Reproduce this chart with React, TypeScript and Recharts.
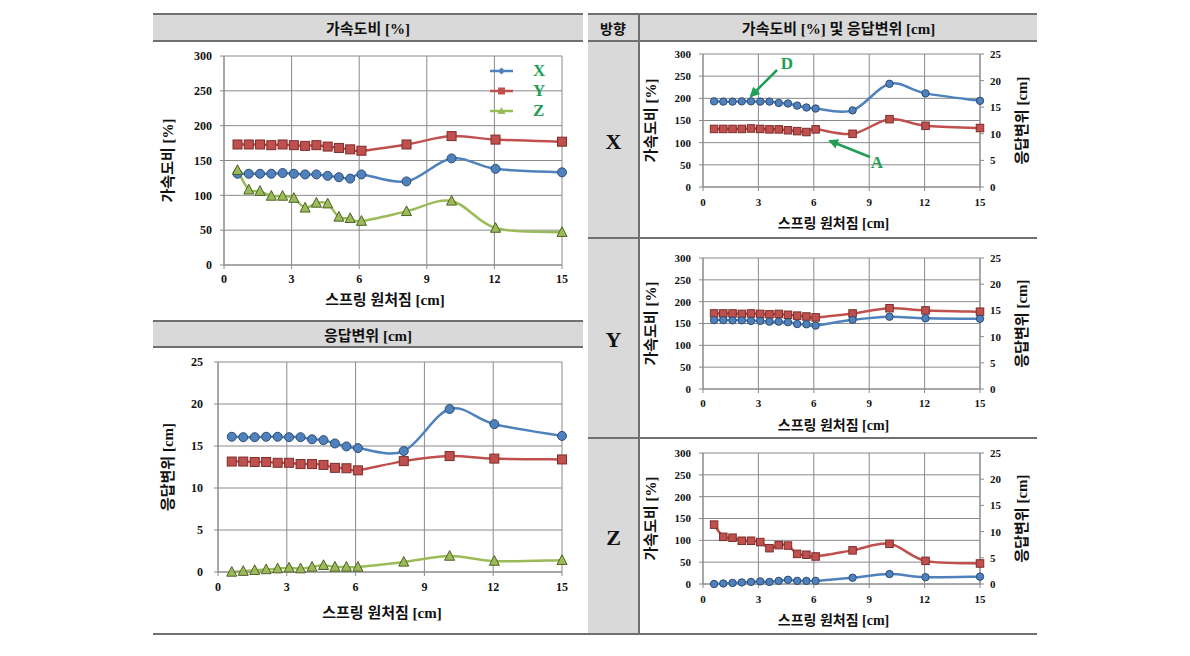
import React from 'react';
import { CartesianGrid, Legend, Line, LineChart, XAxis, YAxis } from 'recharts';

// spring deflection [cm] at each test point
const SPRING = [0.6, 1.1, 1.6, 2.1, 2.6, 3.1, 3.6, 4.1, 4.6, 5.1, 5.6, 6.1, 8.1, 10.1, 12.05, 15];

// acceleration ratio [%]
const ACC_X = [131, 131, 131, 131, 132, 131, 130, 130, 128, 126, 124, 130, 120, 153, 138, 133];
const ACC_Y = [173, 173, 173, 172, 173, 172, 171, 172, 170, 168, 166, 164, 173, 185, 180, 177];
const ACC_Z = [136, 108, 106, 99, 99, 96, 82, 89, 88, 69, 67, 63, 77, 92, 53, 47];

// response displacement [cm]
const DISP_X = [16.1, 16.05, 16.05, 16.1, 16.1, 16.05, 16.05, 15.8, 15.7, 15.3, 14.95, 14.75, 14.4, 19.4, 17.6, 16.2];
const DISP_Y = [13.15, 13.15, 13.1, 13.1, 13.0, 13.0, 12.85, 12.85, 12.75, 12.4, 12.35, 12.1, 13.2, 13.8, 13.5, 13.4];
const DISP_Z = [0.0, 0.1, 0.2, 0.3, 0.4, 0.5, 0.4, 0.6, 0.8, 0.6, 0.6, 0.6, 1.2, 1.9, 1.3, 1.4];

const X_TICKS = [0, 3, 6, 9, 12, 15];
const ACC_TICKS = [0, 50, 100, 150, 200, 250, 300];
const DISP_TICKS = [0, 5, 10, 15, 20, 25];

const accData = SPRING.map((s, i) => ({ s, X: ACC_X[i], Y: ACC_Y[i], Z: ACC_Z[i] }));
const dispData = SPRING.map((s, i) => ({ s, X: DISP_X[i], Y: DISP_Y[i], Z: DISP_Z[i] }));
const dirData = (acc: number[], disp: number[]) => SPRING.map((s, i) => ({ s, acc: acc[i], disp: disp[i] }));

const BLUE = '#4f81bd';
const RED = '#c0504d';
const GREEN = '#9bbb59';
const GRID = '#8a8a8a';
const RULE = '#707070';
const BAND = '#d9d9d9';
const NOTE = '#1f9e55';
const SERIF = "'Liberation Serif', 'Times New Roman', serif";
const KOR = "'Liberation Serif', 'Noto Sans CJK KR', sans-serif";

// Excel-like smoothed line (uniform Catmull-Rom as cubic beziers)
const smooth = (ctx: any) => {
  let pts: number[][] = [];
  return {
    areaStart() {},
    areaEnd() {},
    lineStart() { pts = []; },
    point(x: number, y: number) { pts.push([+x, +y]); },
    lineEnd() {
      const n = pts.length;
      if (!n) return;
      ctx.moveTo(pts[0][0], pts[0][1]);
      for (let i = 0; i < n - 1; i++) {
        const p0 = pts[Math.max(i - 1, 0)], p1 = pts[i], p2 = pts[i + 1], p3 = pts[Math.min(i + 2, n - 1)];
        ctx.bezierCurveTo(
          p1[0] + (p2[0] - p0[0]) / 6, p1[1] + (p2[1] - p0[1]) / 6,
          p2[0] - (p3[0] - p1[0]) / 6, p2[1] - (p3[1] - p1[1]) / 6,
          p2[0], p2[1]);
      }
    },
  };
};

const circleDot = (r: number) => (p: any) => (
  <circle key={`c${p.index}`} cx={p.cx} cy={p.cy} r={r} fill={BLUE} stroke="#2c4c74" strokeWidth={1} />
);
const squareDot = (s: number) => (p: any) => (
  <rect key={`s${p.index}`} x={p.cx - s / 2} y={p.cy - s / 2} width={s} height={s} fill={RED} stroke="#7c2d2b" strokeWidth={1} />
);
const triDot = (s: number) => (p: any) => (
  <path key={`t${p.index}`} d={`M${p.cx},${p.cy - s * 0.55}L${p.cx + s / 2},${p.cy + s * 0.42}L${p.cx - s / 2},${p.cy + s * 0.42}Z`} fill={GREEN} stroke="#4f6228" strokeWidth={1} />
);

const numTick = (size: number) => ({ fill: '#111', fontSize: size, fontFamily: SERIF, fontWeight: 700 });
const titleStyle = { fontFamily: KOR, fontSize: 14, fontWeight: 700, fill: '#111' };

const legendMark: Record<string, (x: number, y: number) => React.ReactNode> = {
  X: (x, y) => <path d={`M${x},${y - 3.5}L${x + 3.5},${y}L${x},${y + 3.5}L${x - 3.5},${y}Z`} fill={BLUE} />,
  Y: (x, y) => <rect x={x - 3.5} y={y - 3.5} width={7} height={7} fill={RED} />,
  Z: (x, y) => <path d={`M${x},${y - 4}L${x + 4},${y + 3}L${x - 4},${y + 3}Z`} fill={GREEN} />,
};

const renderLegend = (props: any) => (
  <div>
    {(props.payload || []).map((e: any) => (
      <div key={e.value} style={{ display: 'flex', alignItems: 'center', height: 20 }}>
        <svg width={23} height={20}>
          <line x1={0} y1={10} x2={23} y2={10} stroke={e.color} strokeWidth={2.5} />
          {legendMark[e.value](11.5, 10)}
        </svg>
        <span style={{ marginLeft: 20, fontFamily: SERIF, fontWeight: 700, fontSize: 17, color: NOTE }}>{e.value}</span>
      </div>
    ))}
  </div>
);

function Rule({ x, y, w, h }: { x: number; y: number; w: number; h: number }) {
  return <div style={{ position: 'absolute', left: x, top: y, width: w, height: h, background: RULE }} />;
}

function Band({ x, y, w, h, text, size = 15 }: { x: number; y: number; w: number; h: number; text?: string; size?: number }) {
  return (
    <div style={{ position: 'absolute', left: x, top: y, width: w, height: h, background: BAND, display: 'flex', alignItems: 'center', justifyContent: 'center', fontFamily: KOR, fontWeight: 700, fontSize: size, color: '#111' }}>
      {text}
    </div>
  );
}

function SummaryChart({ top, height, data, yTicks, yWidth, marginTop, marginBottom, xTickMargin, yTickMargin, xLabelOffset, legend }: any) {
  const yMax = yTicks[yTicks.length - 1];
  return (
    <div style={{ position: 'absolute', left: 153, top, width: 430, height }}>
      <LineChart width={430} height={height} data={data} margin={{ top: marginTop, right: 21, left: 5, bottom: marginBottom }}>
        <CartesianGrid stroke={GRID} strokeWidth={1} />
        <XAxis type="number" dataKey="s" domain={[0, 15]} ticks={X_TICKS} interval={0} height={50}
          stroke={GRID} tickSize={4} tickMargin={xTickMargin} tick={numTick(12)}
          label={{ value: '스프링 원처짐 [cm]', position: 'insideBottom', offset: xLabelOffset, dx: -8, style: { ...titleStyle, fontSize: 15 } }} />
        <YAxis domain={[0, yMax]} ticks={yTicks} interval={0} width={yWidth}
          stroke={GRID} tickSize={4} tickMargin={yTickMargin} tick={numTick(12)}
          label={{ value: legend ? '가속도비 [%]' : '응답변위 [cm]', angle: -90, position: 'insideLeft', offset: 10, style: { ...titleStyle, fontSize: 15, textAnchor: 'middle' } }} />
        {legend && (
          <Legend layout="vertical" align="center" verticalAlign="middle" content={renderLegend}
            wrapperStyle={{ left: 337, top: 19, width: 80 }} />
        )}
        <Line dataKey="X" name="X" type={smooth as any} stroke={BLUE} strokeWidth={2.5} dot={circleDot(4.5)} activeDot={false} isAnimationActive={false} />
        <Line dataKey="Y" name="Y" type={smooth as any} stroke={RED} strokeWidth={2.5} dot={squareDot(9)} activeDot={false} isAnimationActive={false} />
        <Line dataKey="Z" name="Z" type={smooth as any} stroke={GREEN} strokeWidth={2.5} dot={triDot(10)} activeDot={false} isAnimationActive={false} />
      </LineChart>
    </div>
  );
}

function DirectionChart({ top, height, data, marginTop, marginBottom, xTickMargin, children }: any) {
  return (
    <div style={{ position: 'absolute', left: 640, top, width: 397, height }}>
      <LineChart width={397} height={height} data={data} margin={{ top: marginTop, right: 5, left: 3, bottom: marginBottom }}>
        <CartesianGrid stroke={GRID} strokeWidth={1} yAxisId="acc" />
        <XAxis type="number" dataKey="s" domain={[0, 15]} ticks={X_TICKS} interval={0} height={44}
          stroke={GRID} tickSize={4} tickMargin={xTickMargin} tick={numTick(11)}
          label={{ value: '스프링 원처짐 [cm]', position: 'insideBottom', offset: 3, dx: -8, style: titleStyle }} />
        <YAxis yAxisId="acc" domain={[0, 300]} ticks={ACC_TICKS} interval={0} width={60}
          stroke={GRID} tickSize={4} tickMargin={8} tick={numTick(11)}
          label={{ value: '가속도비 [%]', angle: -90, position: 'insideLeft', offset: 8, style: { ...titleStyle, fontSize: 15, textAnchor: 'middle' } }} />
        <YAxis yAxisId="disp" orientation="right" domain={[0, 25]} ticks={DISP_TICKS} interval={0} width={52}
          stroke={GRID} tickSize={4} tickMargin={6} tick={{ ...numTick(11), textAnchor: 'start' }}
          label={{ value: '응답변위 [cm]', angle: -90, position: 'insideRight', offset: 10, style: { ...titleStyle, fontSize: 15, textAnchor: 'middle' } }} />
        <Line yAxisId="acc" dataKey="acc" type={smooth as any} stroke={RED} strokeWidth={2.5} dot={squareDot(7.5)} activeDot={false} isAnimationActive={false} />
        <Line yAxisId="disp" dataKey="disp" type={smooth as any} stroke={BLUE} strokeWidth={2.5} dot={circleDot(3.7)} activeDot={false} isAnimationActive={false} />
      </LineChart>
      {children}
    </div>
  );
}

function DirLabel({ y, text }: { y: number; text: string }) {
  return (
    <div style={{ position: 'absolute', left: 589, top: y - 14, width: 49, height: 28, display: 'flex', alignItems: 'center', justifyContent: 'center', fontFamily: SERIF, fontWeight: 700, fontSize: 22, color: '#111' }}>
      {text}
    </div>
  );
}

export default function App() {
  return (
    <div style={{ position: 'absolute', left: 0, top: 0, width: 1190, height: 656, background: '#fff', overflow: 'hidden' }}>
      {/* left column headers */}
      <Band x={153} y={14} w={430} h={27} text="가속도비 [%]" />
      <Band x={153} y={322} w={430} h={25} text="응답변위 [cm]" />
      <Rule x={153} y={13} w={430} h={2} />
      <Rule x={153} y={40} w={430} h={2} />
      <Rule x={153} y={320} w={430} h={2} />
      <Rule x={153} y={346} w={430} h={2} />

      {/* right table */}
      <Band x={588} y={14} w={50} h={620} />
      <Band x={640} y={14} w={397} h={27} text="가속도비 [%] 및 응답변위 [cm]" />
      <div style={{ position: 'absolute', left: 588, top: 14, width: 50, height: 27, display: 'flex', alignItems: 'center', justifyContent: 'center', fontFamily: KOR, fontWeight: 700, fontSize: 14, color: '#111' }}>방향</div>
      <Rule x={588} y={13} w={449} h={2} />
      <Rule x={588} y={40} w={449} h={2} />
      <Rule x={588} y={237} w={449} h={2} />
      <Rule x={588} y={437} w={449} h={2} />
      <Rule x={638} y={13} w={2} h={622} />
      <Rule x={153} y={633} w={884} h={2} />

      <DirLabel y={142} text="X" />
      <DirLabel y={340} text="Y" />
      <DirLabel y={538} text="Z" />

      <SummaryChart top={42} height={278} data={accData} yTicks={ACC_TICKS} yWidth={66}
        marginTop={14} marginBottom={5} xTickMargin={5} yTickMargin={8} xLabelOffset={10} legend />
      <SummaryChart top={348} height={285} data={dispData} yTicks={DISP_TICKS} yWidth={60}
        marginTop={14} marginBottom={11} xTickMargin={6} yTickMargin={11} xLabelOffset={4} />

      <DirectionChart top={42} height={195} data={dirData(ACC_X, DISP_X)} marginTop={12} marginBottom={6} xTickMargin={7}>
        <svg width={397} height={195} style={{ position: 'absolute', left: 0, top: 0, pointerEvents: 'none' }}>
          <defs>
            <marker id="head" viewBox="0 0 10 10" refX="8" refY="5" markerWidth="4" markerHeight="4" orient="auto">
              <path d="M0,0L10,5L0,10Z" fill={NOTE} />
            </marker>
          </defs>
          <line x1={137} y1={28} x2={111} y2={54} stroke={NOTE} strokeWidth={2.5} markerEnd="url(#head)" />
          <line x1={230} y1={115} x2={190} y2={99} stroke={NOTE} strokeWidth={2.5} markerEnd="url(#head)" />
          <text x={147} y={27} textAnchor="middle" fontFamily={SERIF} fontWeight={700} fontSize={17} fill={NOTE}>D</text>
          <text x={237} y={126} textAnchor="middle" fontFamily={SERIF} fontWeight={700} fontSize={17} fill={NOTE}>A</text>
        </svg>
      </DirectionChart>
      <DirectionChart top={240} height={197} data={dirData(ACC_Y, DISP_Y)} marginTop={18} marginBottom={4} xTickMargin={6} />
      <DirectionChart top={440} height={193} data={dirData(ACC_Z, DISP_Z)} marginTop={13} marginBottom={5} xTickMargin={7} />
    </div>
  );
}
